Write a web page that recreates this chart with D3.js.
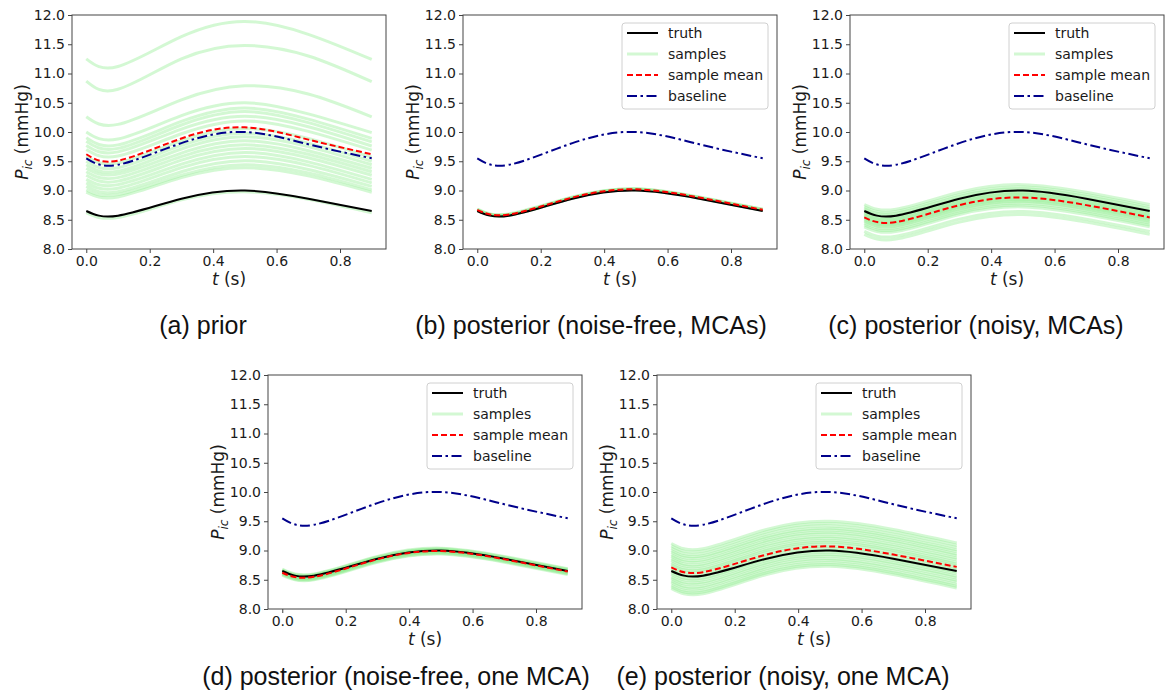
<!DOCTYPE html>
<html>
<head>
<meta charset="utf-8">
<script src="https://cdn.jsdelivr.net/npm/d3@7"></script>
<style>
  body { margin: 0; background: #fff; }
  svg { display: block; }
  .tick text { font-family: "DejaVu Sans", sans-serif; font-size: 14px; fill: #1a1a1a; }
  .tick line { stroke: #444; }
  .lab { font-family: "DejaVu Sans", sans-serif; font-size: 17px; fill: #1a1a1a; }
  .leg { font-family: "DejaVu Sans", sans-serif; font-size: 14px; fill: #1a1a1a; }
  .cap { font-family: "Liberation Sans", Arial, sans-serif; font-size: 25px; fill: #111; }
</style>
</head>
<body>
<svg id="fig" width="1166" height="696"></svg>
<script>
let tGrid = [0, 0.1, 0.3, 0.5, 0.7, 0.9];
let xTicks = [0, 0.2, 0.4, 0.6, 0.8];
let yTicks = [8, 8.5, 9, 9.5, 10, 10.5, 11, 11.5, 12];

let truth    = [8.65, 8.57, 8.86, 9.00, 8.86, 8.65];
let baseline = [9.55, 9.44, 9.81, 10.00, 9.79, 9.55];

let meanA = [9.62, 9.51, 9.89, 10.08, 9.87, 9.62];
let meanB = [8.67, 8.59, 8.88, 9.02, 8.88, 8.67];
let meanC = [8.54, 8.46, 8.75, 8.88, 8.75, 8.54];
let meanD = [8.62, 8.55, 8.85, 8.99, 8.85, 8.64];
let meanE = [8.71, 8.63, 8.93, 9.07, 8.93, 8.72];

let samplesA = [
  [11.25, 11.12, 11.63, 11.89, 11.67, 11.24],
  [10.87, 10.73, 11.25, 11.48, 11.30, 10.86],
  [10.26, 10.13, 10.55, 10.79, 10.65, 10.26],
  [10.00, 9.88, 10.28, 10.50, 10.31, 9.99],
  [9.90, 9.78, 10.18, 10.41, 10.22, 9.89],
  [9.84, 9.72, 10.12, 10.35, 10.16, 9.83],
  [9.77, 9.66, 10.05, 10.27, 10.09, 9.76],
  [9.70, 9.59, 9.97, 10.19, 10.01, 9.69],
  [9.58, 9.47, 9.85, 10.06, 9.89, 9.57],
  [9.50, 9.39, 9.77, 9.98, 9.81, 9.50],
  [9.44, 9.33, 9.71, 9.92, 9.75, 9.44],
  [9.38, 9.28, 9.64, 9.85, 9.68, 9.38],
  [9.32, 9.22, 9.58, 9.78, 9.62, 9.32],
  [9.26, 9.16, 9.52, 9.72, 9.56, 9.26],
  [9.19, 9.10, 9.45, 9.65, 9.49, 9.19],
  [9.13, 9.04, 9.39, 9.58, 9.43, 9.13],
  [9.07, 8.98, 9.32, 9.51, 9.36, 9.07],
  [9.01, 8.93, 9.26, 9.44, 9.30, 9.01],
  [8.97, 8.89, 9.22, 9.39, 9.25, 8.97],
  [8.62, 8.54, 8.84, 8.98, 8.85, 8.62]
];

let samplesB = [
  [8.68, 8.60, 8.89, 9.03, 8.89, 8.68],
  [8.67, 8.59, 8.88, 9.02, 8.88, 8.67],
  [8.66, 8.58, 8.87, 9.01, 8.87, 8.66],
  [8.68, 8.59, 8.88, 9.03, 8.88, 8.68],
  [8.67, 8.58, 8.87, 9.02, 8.87, 8.66]
];

let samplesC = [
  [8.76, 8.68, 8.97, 9.10, 8.97, 8.76],
  [8.72, 8.64, 8.93, 9.06, 8.93, 8.72],
  [8.69, 8.61, 8.90, 9.03, 8.90, 8.69],
  [8.66, 8.58, 8.87, 9.00, 8.87, 8.66],
  [8.63, 8.55, 8.84, 8.97, 8.84, 8.63],
  [8.61, 8.53, 8.82, 8.95, 8.82, 8.61],
  [8.59, 8.51, 8.80, 8.93, 8.80, 8.59],
  [8.57, 8.49, 8.78, 8.91, 8.78, 8.57],
  [8.55, 8.47, 8.76, 8.89, 8.76, 8.55],
  [8.53, 8.45, 8.74, 8.87, 8.74, 8.53],
  [8.51, 8.43, 8.72, 8.85, 8.72, 8.51],
  [8.49, 8.41, 8.70, 8.83, 8.70, 8.49],
  [8.47, 8.39, 8.68, 8.81, 8.68, 8.47],
  [8.44, 8.36, 8.65, 8.78, 8.65, 8.44],
  [8.41, 8.33, 8.62, 8.75, 8.62, 8.41],
  [8.38, 8.30, 8.59, 8.72, 8.59, 8.38],
  [8.30, 8.22, 8.51, 8.64, 8.51, 8.30],
  [8.25, 8.17, 8.46, 8.59, 8.46, 8.25]
];

let samplesD = [
  [8.68, 8.60, 8.90, 9.04, 8.90, 8.69],
  [8.67, 8.59, 8.89, 9.03, 8.89, 8.68],
  [8.66, 8.58, 8.88, 9.02, 8.88, 8.67],
  [8.65, 8.57, 8.87, 9.01, 8.87, 8.66],
  [8.64, 8.56, 8.86, 9.00, 8.86, 8.65],
  [8.63, 8.55, 8.85, 8.99, 8.85, 8.64],
  [8.62, 8.54, 8.84, 8.98, 8.84, 8.63],
  [8.61, 8.53, 8.83, 8.97, 8.83, 8.62],
  [8.60, 8.52, 8.82, 8.96, 8.82, 8.61],
  [8.59, 8.51, 8.81, 8.95, 8.81, 8.60],
  [8.58, 8.50, 8.80, 8.94, 8.80, 8.59]
];

let samplesE = [
  [9.12, 9.03, 9.36, 9.50, 9.36, 9.13],
  [9.08, 8.99, 9.32, 9.46, 9.32, 9.09],
  [9.04, 8.95, 9.28, 9.42, 9.28, 9.05],
  [9.00, 8.91, 9.24, 9.38, 9.24, 9.01],
  [8.97, 8.88, 9.21, 9.35, 9.21, 8.98],
  [8.93, 8.84, 9.17, 9.31, 9.17, 8.94],
  [8.90, 8.81, 9.14, 9.28, 9.14, 8.91],
  [8.86, 8.77, 9.10, 9.24, 9.10, 8.87],
  [8.83, 8.74, 9.07, 9.21, 9.07, 8.84],
  [8.79, 8.70, 9.03, 9.17, 9.03, 8.80],
  [8.76, 8.67, 9.00, 9.14, 9.00, 8.77],
  [8.73, 8.64, 8.97, 9.11, 8.97, 8.74],
  [8.69, 8.60, 8.93, 9.07, 8.93, 8.70],
  [8.66, 8.57, 8.90, 9.04, 8.90, 8.67],
  [8.62, 8.53, 8.86, 9.00, 8.86, 8.63],
  [8.59, 8.50, 8.83, 8.97, 8.83, 8.60],
  [8.55, 8.46, 8.79, 8.93, 8.79, 8.56],
  [8.52, 8.43, 8.76, 8.90, 8.76, 8.53],
  [8.48, 8.39, 8.72, 8.86, 8.72, 8.49],
  [8.45, 8.36, 8.69, 8.83, 8.69, 8.46],
  [8.41, 8.32, 8.65, 8.79, 8.65, 8.42],
  [8.38, 8.29, 8.62, 8.76, 8.62, 8.39],
  [8.35, 8.26, 8.59, 8.73, 8.59, 8.36]
];

let legendLabels = ['truth', 'samples', 'sample mean', 'baseline'];

let panels = [
  {x: 72,  y: 15,  samples: samplesA, mean: meanA, legend: false, cap: '(a) prior', capX: 203, capY: 334},
  {x: 463, y: 15,  samples: samplesB, mean: meanB, legend: true,  cap: '(b) posterior (noise-free, MCAs)', capX: 591, capY: 334},
  {x: 850, y: 15,  samples: samplesC, mean: meanC, legend: true,  cap: '(c) posterior (noisy, MCAs)', capX: 976, capY: 334},
  {x: 268, y: 375, samples: samplesD, mean: meanD, legend: true,  cap: '(d) posterior (noise-free, one MCA)', capX: 396, capY: 685},
  {x: 657, y: 375, samples: samplesE, mean: meanE, legend: true,  cap: '(e) posterior (noisy, one MCA)', capX: 783, capY: 685}
];

let W = 314, H = 234;

let styles = {
  truth:    {stroke: '#000', width: 2, dash: null, opacity: 1},
  samples:  {stroke: '#90ee90', width: 3, dash: null, opacity: 0.4},
  mean:     {stroke: 'red', width: 2, dash: '6,3', opacity: 1},
  baseline: {stroke: '#00008b', width: 2, dash: '10,3.5,2.5,3.5', opacity: 1}
};

let svg = d3.select('#fig');

let x = d3.scaleLinear().domain([-0.045, 0.945]).range([0, W]);
let y = d3.scaleLinear().domain([8, 12]).range([H, 0]);

let line = d3.line()
    .x((d, i) => x(tGrid[i]))
    .y(d => y(d))
    .curve(d3.curveNatural);

function styled(sel, s) {
  return sel.attr('fill', 'none')
    .attr('stroke', s.stroke)
    .attr('stroke-width', s.width)
    .attr('stroke-opacity', s.opacity)
    .attr('stroke-dasharray', s.dash);
}

panels.forEach(p => {
  let g = svg.append('g').attr('transform', `translate(${p.x},${p.y})`);

  g.selectAll('path.sample')
    .data(p.samples)
    .enter().append('path')
      .attr('class', 'sample')
      .attr('d', line)
      .call(styled, styles.samples);

  g.append('path').attr('d', line(truth)).call(styled, styles.truth);
  g.append('path').attr('d', line(p.mean)).call(styled, styles.mean);
  g.append('path').attr('d', line(baseline)).call(styled, styles.baseline);

  // axes
  let xa = g.append('g')
    .attr('transform', `translate(0,${H})`)
    .call(d3.axisBottom(x).tickValues(xTicks).tickFormat(d3.format('.1f')).tickSize(4).tickPadding(3).tickSizeOuter(0));
  let ya = g.append('g')
    .call(d3.axisLeft(y).tickValues(yTicks).tickFormat(d3.format('.1f')).tickSize(4).tickPadding(3).tickSizeOuter(0));
  xa.select('.domain').remove();
  ya.select('.domain').remove();

  g.append('rect')
    .attr('width', W).attr('height', H)
    .attr('fill', 'none').attr('stroke', '#444').attr('stroke-width', 1);

  // axis labels
  let xl = g.append('text').attr('class', 'lab')
    .attr('x', W / 2).attr('y', H + 36).attr('text-anchor', 'middle');
  xl.append('tspan').attr('font-style', 'italic').text('t');
  xl.append('tspan').text(' (s)');

  let yl = g.append('text').attr('class', 'lab')
    .attr('transform', `translate(-44,${H / 2}) rotate(-90)`)
    .attr('text-anchor', 'middle');
  yl.append('tspan').attr('font-style', 'italic').text('P');
  yl.append('tspan').attr('font-style', 'italic').attr('font-size', 12).attr('dy', 4).text('ic');
  yl.append('tspan').attr('dy', -4).text(' (mmHg)');

  // caption
  svg.append('text').attr('class', 'cap')
    .attr('x', p.capX).attr('y', p.capY)
    .attr('text-anchor', 'middle')
    .text(p.cap);

  if (!p.legend) return;

  let lw = 146, lh = 86;
  let lg = g.append('g').attr('transform', `translate(${W - 9 - lw},8)`);
  lg.append('rect')
    .attr('width', lw).attr('height', lh).attr('rx', 3)
    .attr('fill', '#fff').attr('fill-opacity', 0.8)
    .attr('stroke', '#d0d0d0');

  let keys = ['truth', 'samples', 'mean', 'baseline'];
  let rows = lg.selectAll('g.row')
    .data(legendLabels)
    .enter().append('g')
      .attr('class', 'row')
      .attr('transform', (d, i) => `translate(0,${10 + i * 21})`);

  rows.append('line')
    .attr('x1', 5).attr('x2', 36)
    .each(function(d, i) { d3.select(this).call(styled, styles[keys[i]]); });

  rows.append('text').attr('class', 'leg')
    .attr('x', 46).attr('dy', '0.35em')
    .text(d => d);
});
</script>
</body>
</html>
